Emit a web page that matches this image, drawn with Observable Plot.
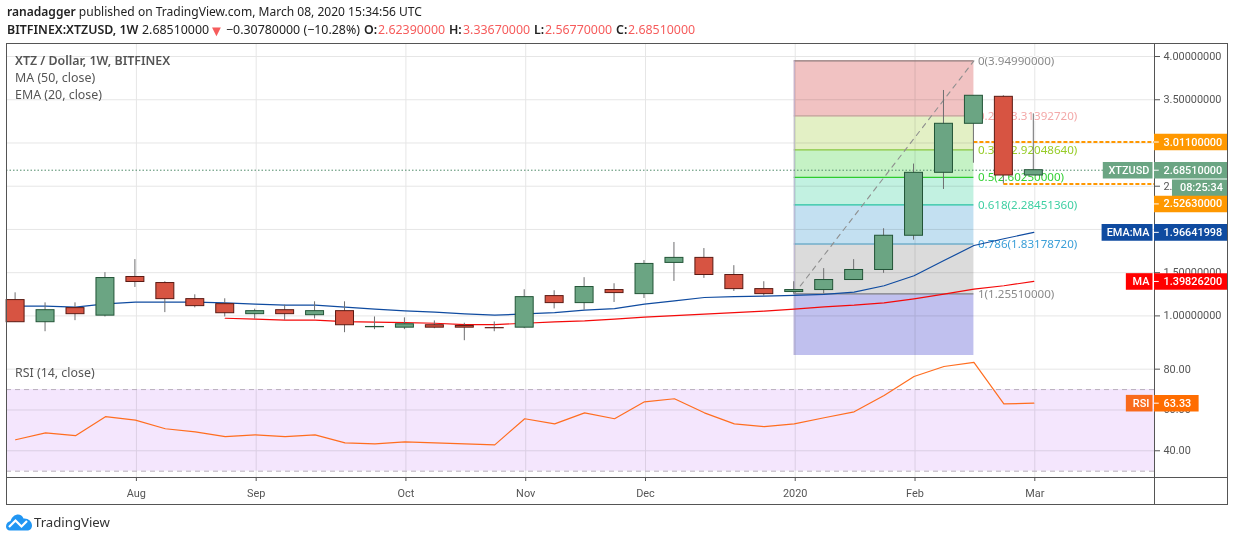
<!DOCTYPE html>
<html><head><meta charset="utf-8">
<script src="https://cdn.jsdelivr.net/npm/d3@7"></script>
<script src="https://cdn.jsdelivr.net/npm/@observablehq/plot@0.6"></script>
<style>
html,body{margin:0;padding:0;background:#fff}
#wrap{position:relative;width:1234px;height:541px;overflow:hidden;font-family:"Noto Sans",sans-serif;font-size:12.4px;color:#222}
#wrap svg.plot{position:absolute;left:0;background:transparent;max-width:none}
.t{position:absolute;white-space:nowrap;line-height:16px}
.b{font-weight:600}.r{color:#f65c5c}.g{color:#555}
#frame{position:absolute;left:6px;top:43px;width:1222px;height:462px;box-sizing:border-box;border:1px solid #555;pointer-events:none}
</style></head><body><div id="wrap">
<div class="t" style="left:7px;top:4px;font-size:12.05px"><span class="b">ranadagger</span> published on TradingView.com, March 08, 2020 15:34:56 UTC</div>
<div class="t b" style="left:7px;top:22px">BITFINEX:XTZUSD, 1W</div>
<div class="t" style="left:142px;top:22px">2.68510000</div>
<div class="t r" style="left:209px;top:22px;font-size:15px">▼</div>
<div class="t" style="left:226px;top:22px">−0.30780000 (−10.28%)</div>
<div class="t b" style="left:364px;top:22px">O:</div><div class="t r" style="left:378px;top:22px">2.62390000</div>
<div class="t b" style="left:449px;top:22px">H:</div><div class="t r" style="left:463px;top:22px">3.33670000</div>
<div class="t b" style="left:534px;top:22px">L:</div><div class="t r" style="left:545px;top:22px">2.56770000</div>
<div class="t b" style="left:616px;top:22px">C:</div><div class="t r" style="left:628px;top:22px">2.68510000</div>
<div id="charts"></div>
<div id="frame"></div>
<div class="t g b" style="left:15px;top:53px">XTZ / Dollar, 1W, BITFINEX</div>
<div class="t g" style="left:15px;top:70px">MA (50, close)</div>
<div class="t g" style="left:15px;top:87px">EMA (20, close)</div>
<div class="t g" style="left:15px;top:365px">RSI (14, close)</div>
<svg style="position:absolute;left:6px;top:514px" width="27" height="17" viewBox="0 0 27 17"><path d="M0 12.5C0 9.5 2 7.5 4.5 7C6 2.5 9.5 0.5 12 0.5C14.5 0.5 16.5 2 17.5 4.5C22 4 26 7.5 26 11.5C26 14.5 24 16.5 21 16.5H4C1.5 16.5 0 14.5 0 12.5Z" fill="#2196f3"/><path d="M3 13L9.5 6.5L15.5 12.5L21 7" fill="none" stroke="#fff" stroke-width="2.2"/></svg>
<div class="t" style="left:34px;top:514px;font-size:13.2px;color:#333">TradingView</div>
</div>
<script>
// Weekly candles, Jul 2019 – Mar 2020
const opens  = [1.183,0.927,1.09,1.003,1.45,1.38,1.194,1.136,1.02,1.066,1.008,1.055,0.869,0.864,0.892,0.884,0.859,0.864,1.229,1.148,1.299,1.252,1.613,1.671,1.473,1.31,1.276,1.299,1.415,1.531,1.927,2.655,3.222,3.534,2.6239];
const closes = [0.927,1.066,1.02,1.438,1.392,1.194,1.113,1.031,1.055,1.02,1.055,0.892,0.872,0.903,0.864,0.864,0.857,1.217,1.148,1.334,1.264,1.601,1.671,1.473,1.31,1.252,1.299,1.415,1.531,1.927,2.655,3.222,3.546,2.6239,2.6851];
const highs  = [1.267,1.151,1.151,1.5,1.651,1.395,1.244,1.198,1.078,1.124,1.163,1.163,0.988,0.977,0.942,0.915,0.93,1.302,1.291,1.442,1.372,1.64,1.849,1.779,1.581,1.395,1.395,1.547,1.651,2.008,2.756,3.607,3.546,3.546,3.3367];
const lows   = [0.927,0.817,0.945,0.988,1.329,1.038,1.093,0.988,0.962,0.95,0.965,0.806,0.841,0.841,0.852,0.713,0.817,0.852,1.081,1.066,1.155,1.201,1.399,1.434,1.283,1.229,1.252,1.252,1.415,1.492,1.876,2.462,2.766,2.5263,2.6239];
const ema20  = [1.113,1.113,1.101,1.14,1.159,1.159,1.159,1.151,1.136,1.124,1.124,1.101,1.078,1.058,1.043,1.023,1.008,1.023,1.038,1.066,1.085,1.136,1.174,1.213,1.224,1.229,1.238,1.248,1.276,1.349,1.465,1.64,1.814,1.892,1.96642];
const ma50   = [null,null,null,null,null,null,null,0.973,0.962,0.95,0.95,0.934,0.927,0.922,0.915,0.899,0.899,0.915,0.93,0.942,0.962,0.985,1.003,1.02,1.038,1.055,1.078,1.105,1.124,1.151,1.198,1.252,1.31,1.349,1.39826];
const rsi    = [45.4,48.8,47.4,56.7,55.0,50.8,49.3,46.9,47.8,46.9,47.8,43.9,43.4,44.4,43.9,43.4,42.9,55.7,53.2,58.6,55.7,64.0,65.5,58.6,53.2,51.8,53.2,56.2,59.1,67.1,76.4,81.3,83.3,63.0,63.33];

const monthTicks  = [4,8,13,17,21,26,30,34];
const monthLabels = ["Aug","Sep","Oct","Nov","Dec","2020","Feb","Mar"];
const priceTicks  = [1,1.5,2,2.5,3,3.5,4];
const rsiTicks    = [40,60,80];

const fibStart = 26, fibEnd = 32;
const fibRatios = ["0","0.236","0.382","0.5","0.618","0.786","1"];
const fibPrices = [3.9499,3.3139272,2.9204864,2.6025,2.2845136,1.8317872,1.2551];
const fibLine   = ["#8f7c7c","#c59a9a","#8cc63f","#2ecc2e","#26c6a0","#3d97c4","#808080"];
const fibFill   = ["#f1c2c2","#e3f0c5","#c5f2c5","#c2f1e1","#c3e0f1","#dbdbdb","#c0c0ee"];
const fibText   = ["#8a8a8a","#f3a9a9","#97cc28","#35d135","#3fcfa3","#3b9fd8","#8a8a8a"];
const orangeLevels = [{price:3.011,from:32},{price:2.5263,from:33}];

const XDOM = [-0.304,38.03];
const FONT = "Roboto", FS = 10.9;
const UP="#6ba583",DN="#d75442",UPB="#225437",DNB="#5b1a13";
const GRID="#e6e6e6",AXIS="#555";

const candles = opens.map((o,i)=>({i,o,c:closes[i],h:highs[i],l:lows[i],up:closes[i]>=o}));
const series = a => a.map((v,i)=>({i,v})).filter(d=>d.v!==null);
const bands = fibPrices.map((p,k)=>({p,next:k<fibPrices.length-1?fibPrices[k+1]:0.542,k}));

// Price tag helper: a box drawn as a thick rule plus its text
function tag(plotY,x1,x2,color,label,textX,anchor,dy=0,tick=false){
  const m=[Plot.ruleY([plotY],{x1,x2,stroke:color,strokeWidth:16.6,dy}),
    Plot.text([plotY],{y:d=>d,x:textX,text:()=>label,fill:"#fff",fontSize:FS,fontWeight:500,textAnchor:anchor,dy})];
  if(tick) m.push(Plot.ruleY([plotY],{x1,x2:x1+0.16,stroke:"#fff",dy}));
  return m;
}

const price = Plot.plot({
  width:1234,height:355,marginTop:43,marginBottom:0,marginLeft:6,marginRight:80,
  style:{fontFamily:FONT,fontSize:FS+"px",color:AXIS},
  x:{domain:XDOM,axis:null},y:{domain:[0.542,4.1506],axis:null},
  marks:[
    Plot.ruleX(monthTicks,{stroke:GRID,dx:1}),
    Plot.ruleY(priceTicks,{stroke:GRID}),
    Plot.rect(bands,{x1:fibStart,x2:fibEnd,y1:"p",y2:"next",fill:d=>fibFill[d.k],mixBlendMode:"multiply"}),
    Plot.ruleY(fibPrices,{x1:fibStart,x2:fibEnd,stroke:(d,k)=>fibLine[k],strokeWidth:1.1}),
    Plot.ruleX([fibStart],{y1:0.542,y2:fibPrices[0],stroke:"#b9b0d0"}),
    Plot.line([{x:fibStart,y:fibPrices[6]},{x:fibEnd,y:fibPrices[0]}],{x:"x",y:"y",stroke:"#8f8f8f",strokeDasharray:"5 5",strokeWidth:1.1}),
    Plot.text(fibPrices,{x:fibEnd,y:d=>d,dx:4,textAnchor:"start",fontSize:11.6,fontFamily:"Noto Sans",
      text:(d,k)=>`${fibRatios[k]}(${d.toFixed(8)})`,fill:(d,k)=>fibText[k],stroke:"#fff",strokeWidth:2,paintOrder:"stroke"}),
    Plot.ruleY([2.6851],{stroke:"#4f8a69",strokeDasharray:"1.5 2"}),
    ...orangeLevels.map(d=>Plot.ruleY([d.price],{x1:d.from,x2:XDOM[1],stroke:"#ff9800",strokeWidth:2,strokeDasharray:"4 2"})),
    Plot.line(series(ema20),{x:"i",y:"v",stroke:"#0f4ba0",strokeWidth:1.2}),
    Plot.line(series(ma50),{x:"i",y:"v",stroke:"#f40a0a",strokeWidth:1.2}),
    Plot.ruleX(candles,{x:"i",y1:"l",y2:"h",stroke:"#6e6e70",strokeWidth:1,dx:-0.5}),
    Plot.rect(candles,{x1:d=>d.i-0.3,x2:d=>d.i+0.3,y1:"o",y2:"c",fill:d=>d.up?UP:DN,stroke:d=>d.up?UPB:DNB,strokeWidth:1}),
    Plot.axisY({anchor:"right",ticks:priceTicks,tickFormat:d3.format(".8f"),tickSize:5,tickPadding:4,label:null,color:AXIS,fontSize:FS}),
    Plot.frame({anchor:"bottom",stroke:AXIS}),
    Plot.frame({anchor:"right",stroke:AXIS}),
    ...tag(3.011,38.03,40.47,"#ff9800","3.01100000",38.33,"start",0,true),
    ...tag(2.6851,36.32,37.98,UP,"XTZUSD",37.86,"end"),
    ...tag(2.6851,38.03,40.47,UP,"2.68510000",38.33,"start",0,true),
    ...tag(2.6851,38.63,40.47,UP,"08:25:34",38.88,"start",17.5),
    ...tag(2.5263,38.03,40.47,"#ff9800","2.52630000",38.33,"start",20,true),
    ...tag(1.96642,36.28,37.98,"#0f4ba0","EMA:MA",37.86,"end"),
    ...tag(1.96642,38.03,40.47,"#0f4ba0","1.96641998",38.33,"start",0,true),
    ...tag(1.39826,37.09,37.98,"#ff0000","MA",37.86,"end"),
    ...tag(1.39826,38.03,40.47,"#ff0000","1.39826200",38.33,"start",0,true),
    Plot.ruleY([0.542],{x1:38.03,x2:40.47,stroke:AXIS})
  ]
});
price.style.top="0px";

const rsiPlot = Plot.plot({
  width:1234,height:149,marginTop:0,marginBottom:27,marginLeft:6,marginRight:80,
  style:{fontFamily:FONT,fontSize:FS+"px",color:AXIS},
  x:{domain:XDOM,axis:null},y:{domain:[26.9,86.7],axis:null},
  marks:[
    Plot.ruleX(monthTicks,{stroke:GRID,dx:1}),
    Plot.ruleY(rsiTicks,{stroke:GRID}),
    Plot.rect([{a:30,b:70}],{x1:XDOM[0],x2:XDOM[1],y1:"a",y2:"b",fill:"#f4e6fd",mixBlendMode:"multiply"}),
    Plot.ruleY([30,70],{stroke:"#b9afbd",strokeDasharray:"5 4"}),
    Plot.line(series(rsi),{x:"i",y:"v",stroke:"#ff6d1f",strokeWidth:1.2}),
    Plot.axisY({anchor:"right",ticks:rsiTicks,tickFormat:d3.format(".2f"),tickSize:5,tickPadding:4,label:null,color:AXIS,fontSize:FS}),
    Plot.axisX({anchor:"bottom",ticks:monthTicks,tickFormat:(d)=>monthLabels[monthTicks.indexOf(d)],tickSize:4,tickPadding:8,label:null,color:AXIS,fontSize:FS,dx:1}),
    Plot.frame({anchor:"bottom",stroke:AXIS}),
    Plot.ruleX([XDOM[1]],{y1:13.6,y2:86.7,stroke:AXIS}),
    Plot.ruleY([26.9],{x1:XDOM[1],x2:40.47,stroke:AXIS}),
    ...tag(63.33,37.09,37.98,"#f96a1c","RSI",37.86,"end"),
    ...tag(63.33,38.03,39.52,"#ff6d00","63.33",38.33,"start",0,true)
  ]
});
rsiPlot.style.top="355px";
document.getElementById("charts").append(price,rsiPlot);
</script></body></html>
